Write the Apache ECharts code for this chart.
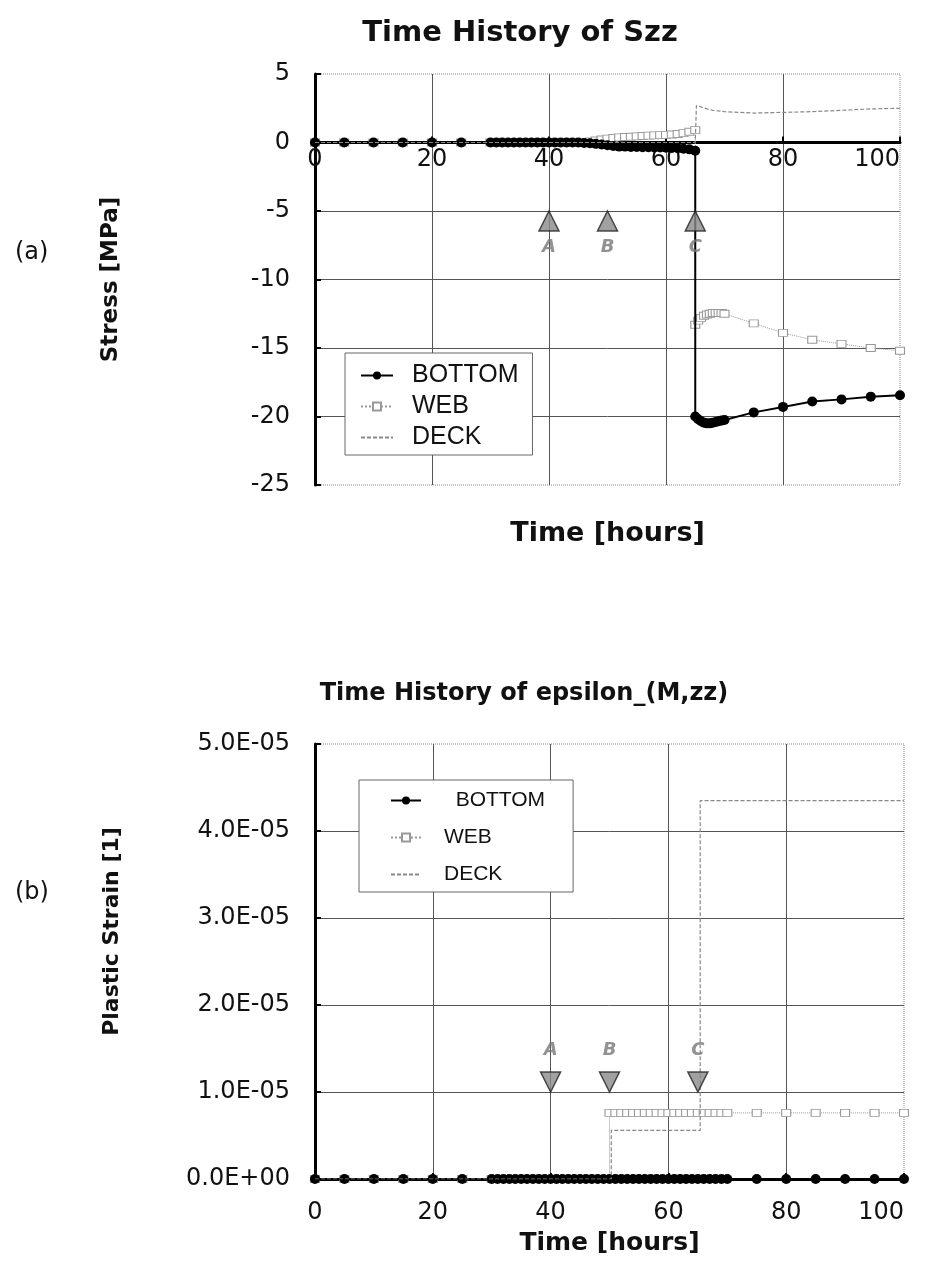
<!DOCTYPE html>
<html><head><meta charset="utf-8">
<script src="https://cdn.jsdelivr.net/npm/echarts@6/dist/echarts.min.js"></script>
<style>html,body{margin:0;padding:0;background:#fff}#c{width:930px;height:1268px}</style>
</head><body><div id="c"></div>
<script>
// ---------- DATA ----------
const titleA = 'Time History of Szz';
const titleB = 'Time History of epsilon_(M,zz)';
const seriesNames = ['BOTTOM', 'WEB', 'DECK'];
const eventNames = ['A', 'B', 'C'];
const eventTimes = [40, 50, 65];
const eventLevelA = -5;
const eventLevelB = 1.0e-5;

// (a) stress, MPa
const tTopPre = [0,5,10,15,20,25,30,31,32,33,34,35,36,37,38,39,40,41,42,43,44,45,46,47,48,49,50,51,52,53,54,55,56,57,58,59,60,61,62,63,64,65];
const bottomTopPre = [0,0,0,0,0,0,0,0,0,0,0,0,0,0,0,0,0,0,0,0,0,0,-0.03,-0.06,-0.1,-0.15,-0.2,-0.25,-0.3,-0.3,-0.32,-0.33,-0.35,-0.35,-0.36,-0.37,-0.38,-0.4,-0.42,-0.45,-0.5,-0.6];
const webTopPre = [0,0,0,0,0,0,0,0,0,0,0,0,0,0,0,0,0,0,0,0,0,0,0.03,0.08,0.15,0.22,0.28,0.33,0.37,0.4,0.42,0.45,0.47,0.5,0.52,0.54,0.56,0.58,0.62,0.68,0.78,0.9];
const tTopPost = [65,65.5,66,66.5,67,67.5,68,68.5,69,69.5,70,75,80,85,90,95,100];
const bottomTopPost = [-20.0,-20.2,-20.35,-20.45,-20.5,-20.5,-20.45,-20.4,-20.35,-20.3,-20.25,-19.7,-19.3,-18.9,-18.75,-18.55,-18.45];
const webTopPost = [-13.3,-13.0,-12.8,-12.65,-12.55,-12.5,-12.45,-12.45,-12.45,-12.45,-12.5,-13.2,-13.9,-14.4,-14.7,-15.0,-15.2];
const tDeckTop = [0,65,65.2,66,67,68,70,75,80,85,90,95,100];
const deckTop = [0,0,2.7,2.6,2.45,2.35,2.25,2.15,2.2,2.25,2.35,2.45,2.5];
const yTicksA = ['-25','-20','-15','-10','-5','0','5'];

// (b) plastic strain
const tBottomB = [0,5,10,15,20,25,30,31,32,33,34,35,36,37,38,39,40,41,42,43,44,45,46,47,48,49,50,51,52,53,54,55,56,57,58,59,60,61,62,63,64,65,66,67,68,69,70,75,80,85,90,95,100];
const bottomB = [0,0,0,0,0,0,0,0,0,0,0,0,0,0,0,0,0,0,0,0,0,0,0,0,0,0,0,0,0,0,0,0,0,0,0,0,0,0,0,0,0,0,0,0,0,0,0,0,0,0,0,0,0];
const tWebB = [0,5,10,15,20,25,30,31,32,33,34,35,36,37,38,39,40,41,42,43,44,45,46,47,48,49,50,50,51,52,53,54,55,56,57,58,59,60,61,62,63,64,65,66,67,68,69,70,75,80,85,90,95,100];
const webB = [0,0,0,0,0,0,0,0,0,0,0,0,0,0,0,0,0,0,0,0,0,0,0,0,0,0,0,7.6e-6,7.6e-6,7.6e-6,7.6e-6,7.6e-6,7.6e-6,7.6e-6,7.6e-6,7.6e-6,7.6e-6,7.6e-6,7.6e-6,7.6e-6,7.6e-6,7.6e-6,7.6e-6,7.6e-6,7.6e-6,7.6e-6,7.6e-6,7.6e-6,7.6e-6,7.6e-6,7.6e-6,7.6e-6,7.6e-6,7.6e-6];
const tDeckB = [0,50.3,50.3,65.4,65.4,100];
const deckB = [0,0,5.6e-6,5.6e-6,4.35e-5,4.35e-5];
const yTicksB = ['0.0E+00','1.0E-05','2.0E-05','3.0E-05','4.0E-05','5.0E-05'];
const xTicks = ['0','20','40','60','80','100'];

// ---------- CHART ----------
const FONT = 'DejaVu Sans';
const LFONT = 'Liberation Sans';
const zip = (t, v) => t.map((x, i) => [x, v[i]]);
const chart = echarts.init(document.getElementById('c'), null, {renderer: 'canvas'});

const bottomStyle = {
  type: 'line', name: seriesNames[0], symbol: 'circle', symbolSize: 10, showAllSymbol: true,
  lineStyle: {color: '#000', width: 2}, itemStyle: {color: '#000'}, z: 4
};
const webStyle = {
  type: 'line', name: seriesNames[1], symbol: 'rect', symbolSize: [9, 7], showAllSymbol: true,
  lineStyle: {color: '#999', width: 1, type: 'dotted'},
  itemStyle: {color: '#fff', borderColor: '#999', borderWidth: 1}, z: 3
};
const deckStyle = {
  type: 'line', name: seriesNames[2], symbol: 'none',
  lineStyle: {color: '#888', width: 1.2, type: [4, 2]}, itemStyle: {color: '#888'}, z: 5
};

// top chart: x axis drawn at stress = 0
const GA = {left: 315, top: 74, width: 585, height: 411};
const zeroOffsetA = -GA.height * 25 / 30;

function xAxisCfg(gi, labelMargin, nameGap, offset, nameSize) {
  return {
    gridIndex: gi, type: 'value', min: 0, max: 100, interval: 20, offset: offset,
    axisLine: {onZero: false, lineStyle: {color: '#000', width: 3}},
    axisTick: {inside: true, length: 6, lineStyle: {color: '#000', width: 2}},
    axisLabel: {fontSize: 24, color: '#111', fontFamily: FONT, margin: labelMargin, alignMaxLabel: 'right',
      formatter: v => xTicks[Math.round(v / 20)]},
    splitLine: {show: true, showMinLine: false, showMaxLine: false, lineStyle: {color: '#555', width: 1}},
    name: 'Time [hours]', nameLocation: 'middle', nameGap: nameGap,
    nameTextStyle: {fontSize: nameSize, fontWeight: 'bold', color: '#111', fontFamily: FONT}
  };
}

const option = {
  animation: false,
  backgroundColor: '#fff',
  textStyle: {fontFamily: FONT},
  title: [
    {text: titleA, left: 515, top: 14, textAlign: 'center',
      textStyle: {fontSize: 29, fontWeight: 'bold', color: '#111', fontFamily: FONT}},
    {text: titleB, left: 519, top: 677, textAlign: 'center',
      textStyle: {fontSize: 24, fontWeight: 'bold', color: '#111', fontFamily: FONT}},
    {text: '(a)', left: 10, top: 236, textStyle: {fontSize: 24, fontWeight: 'normal', color: '#111', fontFamily: FONT}},
    {text: '(b)', left: 10, top: 876, textStyle: {fontSize: 24, fontWeight: 'normal', color: '#111', fontFamily: FONT}}
  ],
  grid: [
    Object.assign({show: true, backgroundColor: 'transparent', borderColor: '#888', borderWidth: 1, borderType: 'dotted'}, GA),
    {left: 315, top: 744, width: 589, height: 435, show: true, backgroundColor: 'transparent',
      borderColor: '#888', borderWidth: 1, borderType: 'dotted'}
  ],
  legend: [
    {orient: 'vertical', left: 345, top: 353, itemWidth: 32, itemHeight: 10, itemGap: 6,
      data: [{name: 'BOTTOM'}, {name: 'WEB'}, {name: 'DECK', itemStyle: {opacity: 0}}],
      padding: [10, 14, 5, 15], backgroundColor: '#fff', borderColor: '#666', borderWidth: 1,
      textStyle: {fontSize: 25, color: '#111', fontFamily: LFONT, padding: [0, 0, 0, 14]}},
    {orient: 'vertical', left: 359, top: 780, itemWidth: 30, itemHeight: 10, itemGap: 16,
      data: [{name: 'BOTTOM'}, {name: 'WEB'}, {name: 'DECK', itemStyle: {opacity: 0}}],
      padding: [10, 28, 7, 31], backgroundColor: '#fff', borderColor: '#666', borderWidth: 1,
      formatter: n => (n === 'BOTTOM' ? '  ' + n : n),
      textStyle: {fontSize: 21, color: '#111', fontFamily: LFONT, padding: [0, 0, 0, 18]}}
  ],
  xAxis: [xAxisCfg(0, 5, 378, zeroOffsetA, 27), xAxisCfg(1, 22, 52, 0, 25)],
  yAxis: [
    {gridIndex: 0, type: 'value', min: -25, max: 5, interval: 5,
      axisLine: {onZero: false, lineStyle: {color: '#000', width: 3}},
      axisTick: {inside: true, length: 6, lineStyle: {color: '#000', width: 2}},
      axisLabel: {fontSize: 24, color: '#111', fontFamily: FONT, margin: 25,
        formatter: v => yTicksA[Math.round((v + 25) / 5)]},
      splitLine: {show: true, showMinLine: false, showMaxLine: false, lineStyle: {color: '#555', width: 1}},
      name: 'Stress [MPa]', nameLocation: 'middle', nameGap: 192, nameRotate: 90,
      nameTextStyle: {fontSize: 23, fontWeight: 'bold', color: '#111', fontFamily: FONT}},
    {gridIndex: 1, type: 'value', min: 0, max: 5e-5, interval: 1e-5,
      axisLine: {onZero: false, lineStyle: {color: '#000', width: 3}},
      axisTick: {inside: true, length: 6, lineStyle: {color: '#000', width: 2}},
      axisLabel: {fontSize: 24, color: '#111', fontFamily: FONT, margin: 25,
        formatter: v => yTicksB[Math.round(v / 1e-5)]},
      splitLine: {show: true, showMinLine: false, showMaxLine: false, lineStyle: {color: '#555', width: 1}},
      name: 'Plastic Strain [1]', nameLocation: 'middle', nameGap: 192, nameRotate: 90,
      nameTextStyle: {fontSize: 22, fontWeight: 'bold', color: '#111', fontFamily: FONT, padding: [0, 0, 0, 60]}}
  ],
  series: [
    Object.assign({}, webStyle, {xAxisIndex: 0, yAxisIndex: 0, data: zip(tTopPre.concat(tTopPost), webTopPre.concat(webTopPost))}),
    Object.assign({}, bottomStyle, {xAxisIndex: 0, yAxisIndex: 0, data: zip(tTopPre.concat(tTopPost), bottomTopPre.concat(bottomTopPost))}),
    Object.assign({}, deckStyle, {xAxisIndex: 0, yAxisIndex: 0, data: zip(tDeckTop, deckTop)}),
    {type: 'scatter', name: 'eventsA', xAxisIndex: 0, yAxisIndex: 0, symbol: 'triangle', symbolSize: [20, 20],
      symbolOffset: [0, 10], itemStyle: {color: '#8a8a8a', borderColor: '#222', borderWidth: 1.5}, z: 10,
      label: {show: true, position: 'bottom', distance: 7, formatter: p => eventNames[p.dataIndex],
        color: '#777', fontSize: 18, fontStyle: 'italic', fontWeight: 'bold', fontFamily: FONT},
      data: eventTimes.map(t => [t, eventLevelA])},
    Object.assign({}, webStyle, {xAxisIndex: 1, yAxisIndex: 1, data: zip(tWebB, webB)}),
    Object.assign({}, bottomStyle, {xAxisIndex: 1, yAxisIndex: 1, data: zip(tBottomB, bottomB)}),
    Object.assign({}, deckStyle, {xAxisIndex: 1, yAxisIndex: 1, data: zip(tDeckB, deckB)}),
    {type: 'scatter', name: 'eventsB', xAxisIndex: 1, yAxisIndex: 1, symbol: 'triangle', symbolSize: [20, 20],
      symbolRotate: 180, symbolOffset: [0, -10], itemStyle: {color: '#8a8a8a', borderColor: '#222', borderWidth: 1.5}, z: 10,
      label: {show: true, position: 'top', distance: 12, formatter: p => eventNames[p.dataIndex],
        color: '#777', fontSize: 18, fontStyle: 'italic', fontWeight: 'bold', fontFamily: FONT},
      data: eventTimes.map(t => [t, eventLevelB])}
  ]
};
chart.setOption(option);
</script></body></html>
